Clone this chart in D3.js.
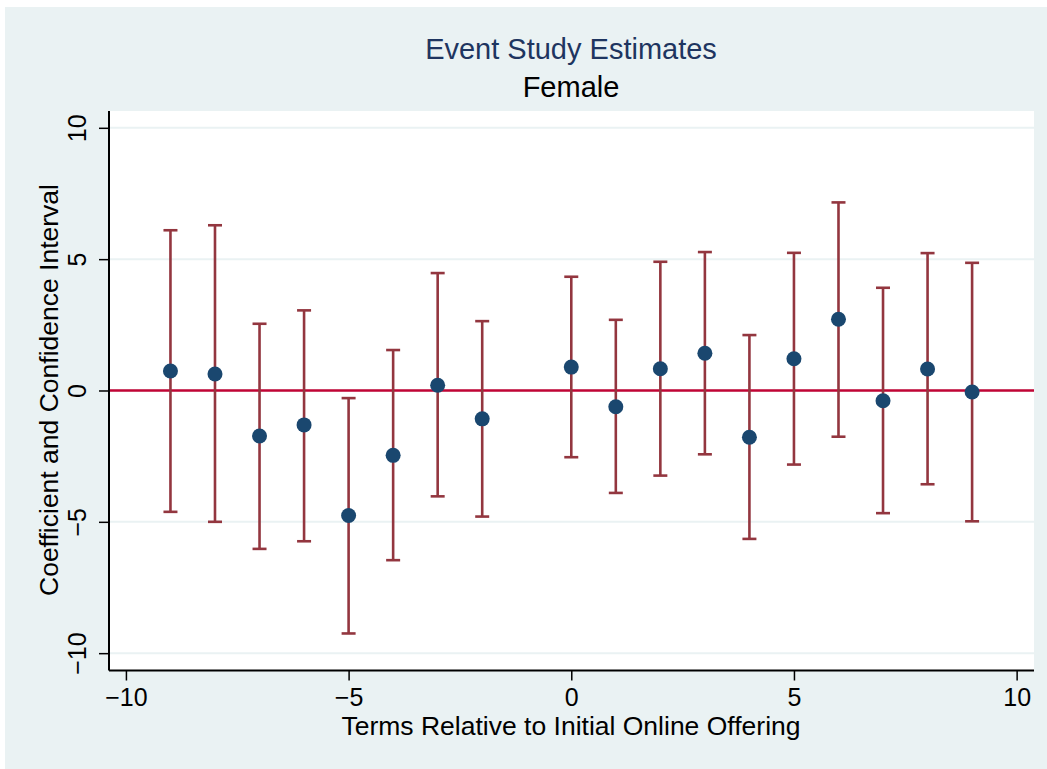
<!DOCTYPE html>
<html><head><meta charset="utf-8">
<script src="https://cdn.jsdelivr.net/npm/d3@7"></script>
<style>body{margin:0;background:#fff}svg{display:block}</style>
</head><body>
<script>
const terms = [-9,-8,-7,-6,-5,-4,-3,-2,0,1,2,3,4,5,6,7,8,9];
const coef  = [0.74,0.63,-1.73,-1.31,-4.76,-2.47,0.20,-1.08,0.89,-0.62,0.83,1.42,-1.78,1.21,2.71,-0.39,0.82,-0.06];
const upper = [6.10,6.29,2.54,3.05,-0.29,1.54,4.47,2.64,4.33,2.69,4.90,5.27,2.11,5.24,7.16,3.91,5.23,4.86];
const lower = [-4.62,-5.00,-6.03,-5.74,-9.25,-6.46,-4.03,-4.80,-2.54,-3.90,-3.24,-2.43,-5.65,-2.82,-1.76,-4.67,-3.57,-4.98];
const xTicks = [-10,-5,0,5,10];
const yTicks = [-10,-5,0,5,10];
const title = "Event Study Estimates";
const subtitle = "Female";
const xTitle = "Terms Relative to Initial Online Offering";
const yTitle = "Coefficient and Confidence Interval";

const W = 1047, H = 769;
const font = "'Liberation Sans', Arial, Helvetica, sans-serif";
const svg = d3.select("body").append("svg").attr("width", W).attr("height", H);
svg.append("rect").attr("x",5).attr("y",7).attr("width",W-5).attr("height",H-7).attr("fill","#eaf2f3");

const L = 109, R = 1034, T = 111, B = 670.5;
const x = d3.scaleLinear().domain([-10.38, 10.39]).range([L, R]);
const y = d3.scaleLinear().domain([-10.66, 10.64]).range([B, T]);

svg.append("rect").attr("x",L).attr("y",T).attr("width",R-L).attr("height",B-T).attr("fill","#fff");

// grid
svg.append("g").selectAll("line").data(yTicks).join("line")
  .attr("x1",L).attr("x2",R).attr("y1",d=>y(d)).attr("y2",d=>y(d))
  .attr("stroke","#eaf2f3").attr("stroke-width",2);

// zero line
svg.append("line").attr("x1",L).attr("x2",R).attr("y1",y(0)).attr("y2",y(0))
  .attr("stroke","#c10534").attr("stroke-width",2.4);

const data = terms.map((t,i)=>({t, c:coef[i], u:upper[i], l:lower[i]}));
const barCol = "#93363f";
const g = svg.append("g");
g.selectAll("line.v").data(data).join("line").attr("class","v")
  .attr("x1",d=>x(d.t)).attr("x2",d=>x(d.t)).attr("y1",d=>y(d.u)).attr("y2",d=>y(d.l))
  .attr("stroke",barCol).attr("stroke-width",2.6);
g.selectAll("line.cu").data(data).join("line").attr("class","cu")
  .attr("x1",d=>x(d.t)-7).attr("x2",d=>x(d.t)+7).attr("y1",d=>y(d.u)).attr("y2",d=>y(d.u))
  .attr("stroke",barCol).attr("stroke-width",2.6);
g.selectAll("line.cl").data(data).join("line").attr("class","cl")
  .attr("x1",d=>x(d.t)-7).attr("x2",d=>x(d.t)+7).attr("y1",d=>y(d.l)).attr("y2",d=>y(d.l))
  .attr("stroke",barCol).attr("stroke-width",2.6);
g.selectAll("circle").data(data).join("circle")
  .attr("cx",d=>x(d.t)).attr("cy",d=>y(d.c)).attr("r",7.5).attr("fill","#1a476f");

// axes
const fmt = d => d < 0 ? "\u2212" + Math.abs(d) : String(d);
const xAxis = svg.append("g").attr("transform",`translate(0,${B})`)
  .call(d3.axisBottom(x).tickValues(xTicks).tickSize(10).tickSizeOuter(0).tickFormat(fmt));
xAxis.select(".domain").attr("stroke","#000").attr("stroke-width",2).attr("d",`M${L},0H${R}`);
xAxis.selectAll(".tick line").attr("stroke","#000").attr("stroke-width",1.5);
xAxis.selectAll(".tick text").attr("font-family",font).attr("font-size",25).attr("fill","#000")
  .attr("dy",null).attr("y",35);

const yAxis = svg.append("g").attr("transform",`translate(${L},0)`)
  .call(d3.axisLeft(y).tickValues(yTicks).tickSize(10).tickSizeOuter(0).tickFormat(fmt));
yAxis.select(".domain").attr("stroke","#000").attr("stroke-width",2).attr("d",`M0,${T}V${B}`);
yAxis.selectAll(".tick line").attr("stroke","#000").attr("stroke-width",1.5);
yAxis.selectAll(".tick text").attr("font-family",font).attr("font-size",25).attr("fill","#000")
  .attr("x",null).attr("dy",null).attr("text-anchor","middle")
  .attr("transform","translate(-23,0) rotate(-90)");

svg.append("text").attr("x",571).attr("y",59).attr("text-anchor","middle")
  .attr("font-family",font).attr("font-size",29).attr("fill","#1e3560").text(title);
svg.append("text").attr("x",571).attr("y",97).attr("text-anchor","middle")
  .attr("font-family",font).attr("font-size",29).attr("fill","#000").text(subtitle);
svg.append("text").attr("x",571).attr("y",735).attr("text-anchor","middle")
  .attr("font-family",font).attr("font-size",26.5).attr("fill","#000").text(xTitle);
svg.append("text").attr("transform",`translate(58,390) rotate(-90)`).attr("text-anchor","middle")
  .attr("font-family",font).attr("font-size",26.5).attr("fill","#000").text(yTitle);
</script>
</body></html>
